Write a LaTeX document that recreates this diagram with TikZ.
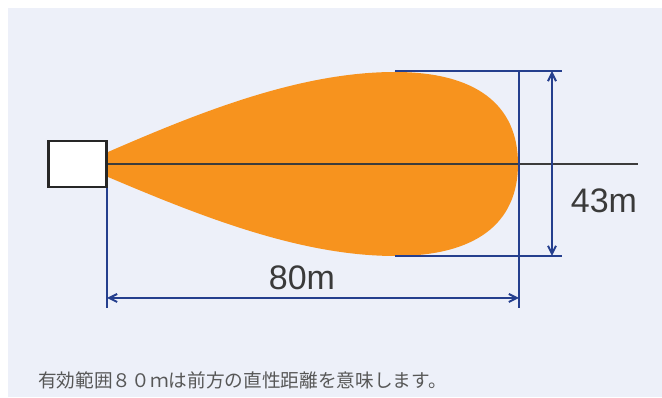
\documentclass[tikz,border=0pt]{standalone}
\usepackage{fontspec}
\setmainfont{Liberation Sans}
\newfontfamily\cjk{Noto Sans CJK JP}
\usetikzlibrary{arrows.meta}
\definecolor{bgc}{HTML}{EDF0F9}
\definecolor{beam}{HTML}{F7931E}
\definecolor{dimc}{HTML}{253F8E}
\definecolor{axisc}{HTML}{3C3C3C}
\definecolor{txtc}{HTML}{3A3A3A}
\tikzset{
  dimline/.style={draw=dimc, line width=1.5pt},
  dimarrow/.style={dimline, {Straight Barb[length=6pt,width=6pt]}-{Straight Barb[length=6pt,width=6pt]}},
  sensor/.style={draw=black!85, line width=2.2pt, fill=white, minimum width=44pt, minimum height=34.5pt, inner sep=0pt},
  bigtxt/.style={text=txtc, font=\fontsize{25.5}{30}\selectfont, inner sep=0pt},
  note/.style={text=txtc!85, font=\cjk\fontsize{14}{16}\selectfont, inner sep=0pt, anchor=base west}
}
\begin{document}
\begin{tikzpicture}[x=0.75pt, y=-0.75pt]
\useasboundingbox (0,0) rectangle (662,398);
\fill[bgc] (8,8) rectangle (662,397);
% beam
\fill[beam] (108,152) .. controls (200,112) and (300,72) .. (395,72)
  .. controls (475,72) and (518,104) .. (518,164)
  .. controls (518,224) and (475,256) .. (395,256)
  .. controls (300,256) and (200,216) .. (108,177) -- cycle;
% coordinates
\coordinate (axR) at (638,164);
\coordinate (axL) at (108,164);
\coordinate (vl1) at (107,164);
\coordinate (vl2) at (107,308);
\coordinate (vr1) at (519,71);
\coordinate (vr2) at (519,308);
\coordinate (tl) at (395,71);
\coordinate (tr) at (562,71);
\coordinate (bl) at (395,256);
\coordinate (br) at (562,256);
\coordinate (ha) at (107,298);
\coordinate (hb) at (519,298);
\coordinate (va) at (552,71);
\coordinate (vb) at (552,256);
% axis
\draw[axisc, line width=1.5pt] (axL) -- (axR);
% dimension lines
\draw[dimline] (vl1) -- (vl2);
\draw[dimline] (vr1) -- (vr2);
\draw[dimline] (tl) -- (tr);
\draw[dimline] (bl) -- (br);
\draw[dimarrow] (ha) -- (hb);
\draw[dimarrow] (va) -- (vb);
% sensor
\node[sensor] (box) at (77.5,164) {};
% labels
\node[bigtxt] (l80) at (302,278) {80m};
\node[bigtxt] (l43) at (604,201) {43m};
\node[note] (nt) at (38,388) {有効範囲８０ｍは前方の直性距離を意味します。};
\end{tikzpicture}
\end{document}
